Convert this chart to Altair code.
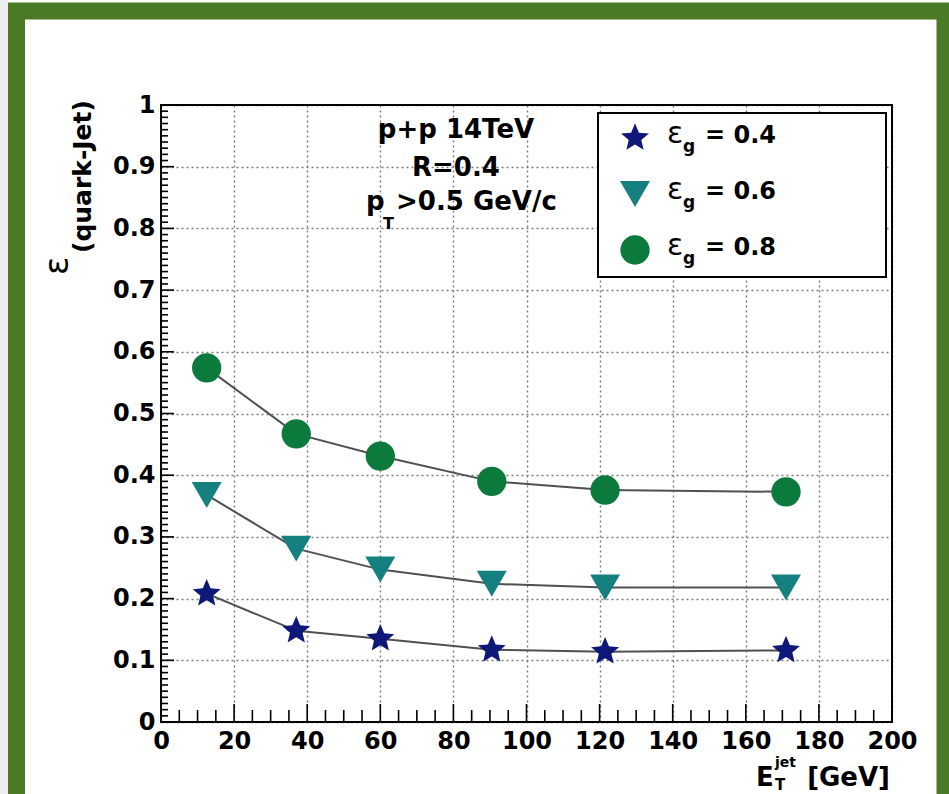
import altair as alt
import pandas as pd

# ---------------- data ----------------
et_gev = [12.5, 37.0, 60.0, 90.5, 121.5, 171.0]
eff_g04 = [0.208, 0.148, 0.135, 0.117, 0.114, 0.116]
eff_g06 = [0.368, 0.281, 0.247, 0.224, 0.218, 0.218]
eff_g08 = [0.574, 0.467, 0.431, 0.390, 0.376, 0.373]
series_names = ["g04", "g06", "g08"]
series_labels = ["= 0.4", "= 0.6", "= 0.8"]
series_colors = ["#0e1878", "#15807f", "#0c7a3c"]

STAR_PATH = ("M0,-1L0.2645,-0.3641L0.9511,-0.309L0.428,0.1391L0.5878,0.809"
             "L0,0.45L-0.5878,0.809L-0.428,0.1391L-0.9511,-0.309L-0.2645,-0.3641Z")
series_shapes = [STAR_PATH, "triangle-down", "circle"]
series_sizes = [860, 900, 860]

x_major = [0, 20, 40, 60, 80, 100, 120, 140, 160, 180, 200]
x_minor = [v for v in range(0, 201, 5) if v % 20 != 0]
y_major = [0, 0.1, 0.2, 0.3, 0.4, 0.5, 0.6, 0.7, 0.8, 0.9, 1]
y_minor = [i / 100 for i in range(0, 101) if i % 10 != 0]

# ---------------- layout ----------------
CANVAS_W, CANVAS_H = 949, 794
PAD_L, PAD_T = 161, 105
W, H = 731, 617
PAD_R = CANVAS_W - PAD_L - W
PAD_B = CANVAS_H - PAD_T - H
FONT = "DejaVu Sans"


def px(x):
    return x - PAD_L


def py(y):
    return y - PAD_T


series_vals = [eff_g04, eff_g06, eff_g08]
point_frames = []
seg_frames = []
for name, vals in zip(series_names, series_vals):
    point_frames.append(pd.DataFrame({"series": name, "et": et_gev, "eff": vals}))
    seg_frames.append(pd.DataFrame({
        "series": name,
        "et": et_gev[:-1], "et2": et_gev[1:],
        "eff": vals[:-1], "eff2": vals[1:],
    }))
seg_df = pd.concat(seg_frames, ignore_index=True)

xscale = alt.Scale(domain=[0, 200], nice=False, zero=False)
yscale = alt.Scale(domain=[0, 1], nice=False, zero=False)

x_axis = alt.Axis(values=x_major, title=None, grid=True, ticks=False, domain=False,
                  labelFont=FONT, labelFontSize=24, labelFontWeight="bold",
                  labelColor="black", labelPadding=7, labelFlush=False, labelOverlap=False,
                  gridColor="#7a7a7a", gridDash=[2, 3], gridWidth=1.4, format="d")
y_axis = alt.Axis(values=y_major, title=None, grid=True, ticks=False, domain=False,
                  labelFont=FONT, labelFontSize=24, labelFontWeight="bold",
                  labelColor="black", labelPadding=6, labelFlush=False, labelOverlap=False,
                  gridColor="#7a7a7a", gridDash=[2, 3], gridWidth=1.4,
                  labelExpr="datum.value == 0 ? '0' : datum.value == 1 ? '1' : format(datum.value, '.1f')")

enc_x = alt.X("et:Q", scale=xscale, axis=x_axis)
enc_y = alt.Y("eff:Q", scale=yscale, axis=y_axis)

# connecting segments
segments = alt.Chart(seg_df).mark_rule(color="#505050", strokeWidth=2).encode(
    x=enc_x, y=enc_y, x2="et2:Q", y2="eff2:Q")

point_layers = []
for i, name in enumerate(series_names):
    point_layers.append(
        alt.Chart(point_frames[i]).mark_point(
            filled=True, opacity=1, shape=series_shapes[i], color=series_colors[i],
            size=series_sizes[i]).encode(x=enc_x, y=enc_y))

# inward ticks
xt_major = alt.Chart(pd.DataFrame({"et": x_major})).mark_rule(color="black", strokeWidth=1.6).encode(
    x=enc_x, y=alt.value(H), y2=alt.value(H - 18))
xt_minor = alt.Chart(pd.DataFrame({"et": x_minor})).mark_rule(color="black", strokeWidth=1.6).encode(
    x=enc_x, y=alt.value(H), y2=alt.value(H - 12))
yt_major = alt.Chart(pd.DataFrame({"eff": y_major})).mark_rule(color="black", strokeWidth=1.6).encode(
    y=enc_y, x=alt.value(0), x2=alt.value(13))
yt_minor = alt.Chart(pd.DataFrame({"eff": y_minor})).mark_rule(color="black", strokeWidth=1.6).encode(
    y=enc_y, x=alt.value(0), x2=alt.value(7))

one = pd.DataFrame({"k": [0]})

frame = alt.Chart(one).mark_rect(fill="transparent", stroke="black", strokeWidth=2).encode(
    x=alt.value(0), x2=alt.value(W), y=alt.value(0), y2=alt.value(H))

# decorative green border
border = alt.Chart(one).mark_rect(fill="transparent", stroke="#4a7a26", strokeWidth=17).encode(
    x=alt.value(px(16.5)), x2=alt.value(px(945)), y=alt.value(py(11)), y2=alt.value(py(840)))
outer_strip = alt.Chart(one).mark_rect(fill="#ededed").encode(
    x=alt.value(px(0)), x2=alt.value(px(8)), y=alt.value(py(0)), y2=alt.value(py(CANVAS_H)))


def txt(s, x, y, size, align="left", weight="bold", angle=0):
    return alt.Chart(one).mark_text(
        align=align, baseline="alphabetic", fontSize=size, fontWeight=weight,
        font=FONT, angle=angle, color="black"
    ).encode(x=alt.value(px(x)), y=alt.value(py(y)), text=alt.value(s))


annotations = [
    txt("p+p 14TeV", 456, 138, 26, align="center"),
    txt("R=0.4", 456, 176, 26, align="center"),
    txt("p", 366, 210, 26),
    txt("T", 383, 229, 16),
    txt(">0.5 GeV/c", 396, 210, 26),
    # y title
    txt("ε", 68, 275, 34, weight="normal", angle=270),
    txt("(quark-Jet)", 91, 253, 25, angle=270),
    # x title
    txt("E", 756, 786, 26),
    txt("jet", 775, 767, 14),
    txt("T", 775, 790, 15),
    txt("[GeV]", 890, 786, 26, align="right"),
]

# legend box
legend_box = alt.Chart(one).mark_rect(fill="white", stroke="black", strokeWidth=2).encode(
    x=alt.value(px(598)), x2=alt.value(px(886)), y=alt.value(py(113)), y2=alt.value(py(277)))

legend_layers = [legend_box]
row_base = [143, 199, 255]
for i in range(3):
    b = row_base[i]
    legend_layers.append(
        alt.Chart(one).mark_point(filled=True, opacity=1, shape=series_shapes[i],
                                  color=series_colors[i], size=series_sizes[i]).encode(
            x=alt.value(px(635)), y=alt.value(py(b - 5))))
    legend_layers.append(txt("ε", 667, b, 30, weight="normal"))
    legend_layers.append(txt("g", 683, b + 9, 17))
    legend_layers.append(txt(series_labels[i], 705, b, 24))

chart = alt.layer(
    outer_strip, border,
    segments, *point_layers,
    xt_major, xt_minor, yt_major, yt_minor,
    frame,
    *legend_layers,
    *annotations,
).properties(
    width=W, height=H,
    autosize=alt.AutoSizeParams(type="none"),
    padding={"left": PAD_L, "top": PAD_T, "right": PAD_R, "bottom": PAD_B},
    background="white",
).configure_view(stroke=None)

chart.save("out.html", embed_options={"renderer": "svg", "actions": False})
